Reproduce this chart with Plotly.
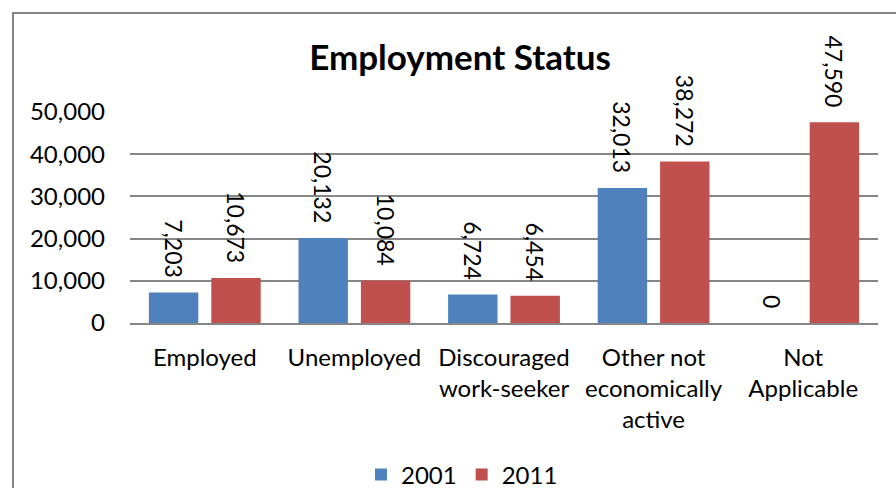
import plotly.graph_objects as go

# Employment status counts by census year
categories = [
    "Employed",
    "Unemployed",
    "Discouraged<br>work-seeker",
    "Other not<br>economically<br>active",
    "Not<br>Applicable",
]
values_2001 = [7203, 20132, 6724, 32013, 0]
values_2011 = [10673, 10084, 6454, 38272, 47590]
series_names = ["2001", "2011"]
tick_values = [0, 10000, 20000, 30000, 40000, 50000]

FONT = "Lato"
BLUE = "#4F81BD"
RED = "#C0504D"
GRID = "#868686"

W, H = 896, 488
ML, MR, MT, MB = 130, 18, 112, 165
PW, PH = W - ML - MR, H - MT - MB


def px_to_paper_x(px):
    return (px - ML) / PW


def px_to_paper_y(py):
    return (H - MB - py) / PH


# trailing non-breaking spaces push the rotated labels away from the bar tops
PAD = "\u00a0\u00a0"

fig = go.Figure()
for name, vals, color in [(series_names[0], values_2001, BLUE),
                          (series_names[1], values_2011, RED)]:
    fig.add_trace(go.Bar(
        name=name,
        x=categories,
        y=vals,
        marker=dict(color=color, line=dict(width=0)),
        text=[f"{v:,}" + PAD for v in vals],
        textposition="outside",
        textangle=90,
        textfont=dict(family=FONT, size=23, color="#000000"),
        constraintext="none",
        cliponaxis=False,
        hoverinfo="skip",
    ))

fig.update_layout(
    width=W,
    height=H,
    margin=dict(l=ML, r=MR, t=MT, b=MB, pad=0, autoexpand=False),
    paper_bgcolor="#FFFFFF",
    plot_bgcolor="#FFFFFF",
    barmode="group",
    bargap=0.166,
    bargroupgap=0.208,
    font=dict(family=FONT, size=24, color="#000000"),
    title=dict(
        text="<b>Employment Status</b>",
        font=dict(family=FONT, size=35, color="#000000"),
        x=px_to_paper_x(460),
        xref="paper",
        xanchor="center",
        y=1 - 58 / H,
        yref="container",
        yanchor="middle",
    ),
    showlegend=True,
    legend=dict(
        orientation="h",
        x=px_to_paper_x(462),
        xanchor="center",
        y=px_to_paper_y(475),
        yanchor="middle",
        font=dict(family=FONT, size=24),
        itemwidth=30,
        bgcolor="rgba(0,0,0,0)",
        traceorder="normal",
    ),
    xaxis=dict(
        showgrid=False,
        showline=True,
        linecolor=GRID,
        linewidth=2,
        ticks="",
        ticklabelstandoff=12,
        tickfont=dict(family=FONT, size=24),
        zeroline=False,
        automargin=False,
    ),
    yaxis=dict(
        range=[0, 50000],
        tickvals=tick_values,
        tickformat=",",
        showgrid=True,
        gridcolor=GRID,
        gridwidth=1.5,
        showline=False,
        zeroline=False,
        ticks="",
        ticklabelstandoff=24,
        tickfont=dict(family=FONT, size=24),
        automargin=False,
    ),
    shapes=[
        dict(
            type="rect",
            xref="paper", yref="paper",
            x0=px_to_paper_x(13), x1=px_to_paper_x(910),
            y0=px_to_paper_y(520), y1=px_to_paper_y(13),
            line=dict(color="#868686", width=2),
            fillcolor="rgba(0,0,0,0)",
            layer="below",
        )
    ],
)

fig.write_html("out.html")
